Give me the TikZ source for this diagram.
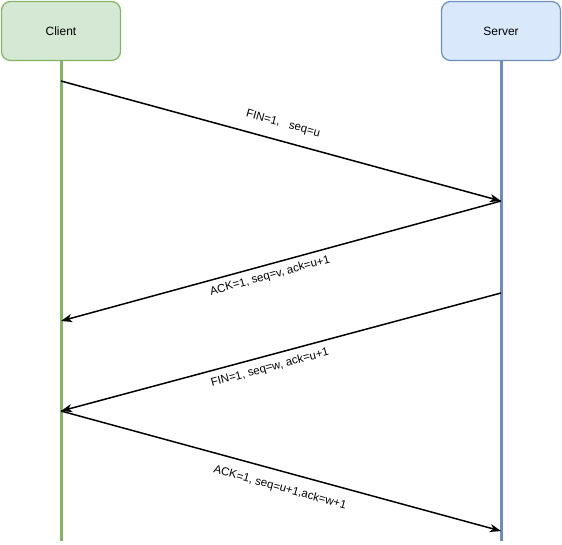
\documentclass[tikz,border=0pt]{standalone}
\usepackage{fontspec}
\setmainfont{Liberation Sans}
\usetikzlibrary{arrows.meta}
\definecolor{cfill}{HTML}{D5E8D4}
\definecolor{cdraw}{HTML}{82B366}
\definecolor{sfill}{HTML}{DAE8FC}
\definecolor{sdraw}{HTML}{6C8EBF}
\tikzset{
  actor/.style={draw, line width=1.2pt, rounded corners=9pt, minimum width=119pt, minimum height=59pt, font=\fontsize{12}{14}\selectfont},
  life/.style={line width=3pt},
  msg/.style={line width=1.5pt, -{Stealth[length=11pt,width=8pt,inset=3pt]}},
  lbl/.style={font=\fontsize{11.5}{13}\selectfont, inner sep=0pt}
}
\begin{document}
\begin{tikzpicture}[x=1pt,y=-1pt]
\useasboundingbox (0,0) rectangle (562,544);
\node[actor, fill=cfill, draw=cdraw] (client) at (61,31) {Client};
\node[actor, fill=sfill, draw=sdraw] (server) at (501,31) {Server};
\coordinate (cend) at (61,541);
\coordinate (send) at (501,541);
\draw[life, cdraw] (client.south) -- (cend);
\draw[life, sdraw] (server.south) -- (send);
\coordinate (c1) at (61,81);
\coordinate (s1) at (501,201);
\coordinate (c2) at (61,321);
\coordinate (s3) at (501,293);
\coordinate (c3) at (61,411);
\coordinate (s4) at (501,531);
\draw[msg] (c1) -- (s1);
\draw[msg] (s1) -- (c2);
\draw[msg] (s3) -- (c3);
\draw[msg] (c3) -- (s4);
\node[lbl, rotate=-15.3] (l1) at (283,124) {FIN=1,\ \ \ seq=u};
\node[lbl, rotate=15.3] (l2) at (270,276) {ACK=1, seq=v, ack=u+1};
\node[lbl, rotate=15] (l3) at (270,368) {FIN=1, seq=w, ack=u+1};
\node[lbl, rotate=-15.3] (l4) at (280,488) {ACK=1, seq=u+1,ack=w+1};
\end{tikzpicture}
\end{document}
